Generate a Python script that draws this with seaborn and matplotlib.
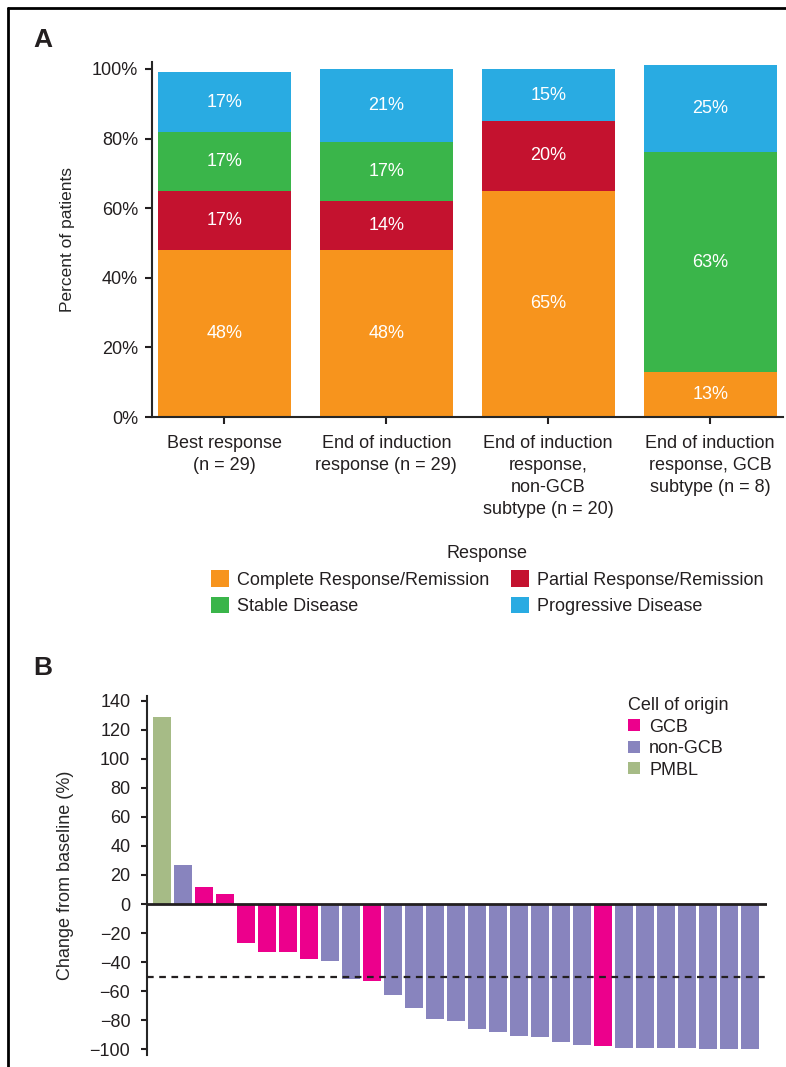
import numpy as np
import pandas as pd
import matplotlib
matplotlib.use("Agg")
import matplotlib.pyplot as plt
from matplotlib.patches import Patch
from matplotlib.lines import Line2D
import seaborn as sns

# --- Panel A data: response by group (%) ---
groups = [
    "Best response\n(n = 29)",
    "End of induction\nresponse (n = 29)",
    "End of induction\nresponse,\nnon-GCB\nsubtype (n = 20)",
    "End of induction\nresponse, GCB\nsubtype (n = 8)",
]
complete = [48, 48, 65, 13]
partial = [17, 14, 20, 0]
stable = [17, 17, 0, 63]
progressive = [17, 21, 15, 25]

response_names = ["Complete Response/Remission", "Partial Response/Remission",
                  "Stable Disease", "Progressive Disease"]
response_colors = ["#F7941D", "#C4122F", "#3AB54A", "#29ABE2"]

# --- Panel B data: change from baseline per patient (%) ---
change = [129, 27, 12, 7, -27, -33, -33, -38, -39, -52, -53, -63, -72, -79, -81,
          -86, -88, -91, -92, -95, -97, -98, -99, -99, -99, -99, -100, -100, -100]
origin = ["PMBL", "non-GCB", "GCB", "GCB", "GCB", "GCB", "GCB", "GCB", "non-GCB",
          "non-GCB", "GCB", "non-GCB", "non-GCB", "non-GCB", "non-GCB", "non-GCB",
          "non-GCB", "non-GCB", "non-GCB", "non-GCB", "non-GCB", "GCB", "non-GCB",
          "non-GCB", "non-GCB", "non-GCB", "non-GCB", "non-GCB", "non-GCB"]
origin_names = ["GCB", "non-GCB", "PMBL"]
origin_colors = ["#EC008C", "#8884BE", "#A6BB86"]

sns.set_style("ticks")
plt.rcParams["font.family"] = ["Liberation Sans", "DejaVu Sans"]
plt.rcParams["axes.linewidth"] = 1.5
plt.rcParams["xtick.major.width"] = 1.5
plt.rcParams["ytick.major.width"] = 1.5
plt.rcParams["text.color"] = "#231F20"
plt.rcParams["xtick.color"] = "#231F20"
plt.rcParams["ytick.color"] = "#231F20"

FS = 13

fig = plt.figure(figsize=(7.86, 10.67), dpi=100)

# ---------------- Panel A ----------------
axA = fig.add_axes([152 / 786, 1 - 417 / 1067, (783 - 152) / 786, (417 - 62) / 1067])

df = pd.DataFrame({"group": groups, "c": complete, "p": partial,
                   "s": stable, "g": progressive})
layers = [df["c"], df["p"], df["s"], df["g"]]
cums = np.cumsum(np.array(layers), axis=0)

# draw from the top layer down so each lower layer covers the upper one
for i in range(3, -1, -1):
    sns.barplot(x=df["group"], y=cums[i], color=response_colors[i],
                saturation=1, width=0.82, errorbar=None, linewidth=0,
                edgecolor="none", ax=axA)

for j in range(len(groups)):
    for i in range(4):
        val = layers[i].iloc[j]
        if val > 0:
            bottom = cums[i][j] - val
            axA.text(j, bottom + val / 2, f"{val}%", ha="center", va="center",
                     color="white", fontsize=FS)

axA.set_ylim(0, 102)
axA.set_xlim(-0.447, 3.45)
axA.set_yticks([0, 20, 40, 60, 80, 100])
axA.set_yticklabels([f"{v}%" for v in [0, 20, 40, 60, 80, 100]], fontsize=FS)
axA.tick_params(axis="x", length=5, pad=8, labelsize=FS)
axA.tick_params(axis="y", length=5, pad=5)
for lab in axA.get_xticklabels():
    lab.set_linespacing(1.38)
axA.set_xlabel("")
axA.set_ylabel("Percent of patients", fontsize=12.5, labelpad=12)
sns.despine(ax=axA)

order_leg = [0, 2, 1, 3]  # row-wise reading order for 2-column legend
handlesA = [Patch(facecolor=response_colors[k], edgecolor="none", label=response_names[k])
            for k in order_leg]
legA = fig.legend(handles=handlesA, title="Response", ncol=2, frameon=False,
                  loc="upper center", bbox_to_anchor=(487 / 786, 1 - 529 / 1067),
                  fontsize=FS, title_fontsize=FS, handlelength=1.0, handleheight=1.0,
                  handletextpad=0.45, columnspacing=1.2, labelspacing=0.45)

# ---------------- Panel B ----------------
axB = fig.add_axes([147 / 786, 1 - 1055 / 1067, 620 / 786, 359 / 1067])

dfB = pd.DataFrame({"patient": list(range(len(change))), "change": change,
                    "origin": origin})
sns.barplot(data=dfB, x="patient", y="change", hue="origin",
            hue_order=origin_names, palette=origin_colors, order=list(range(len(change))),
            dodge=False, saturation=1, width=0.86, errorbar=None, legend=False,
            linewidth=0, edgecolor="none", ax=axB)

axB.axhline(0, color="#231F20", lw=2.0, zorder=3)
axB.axhline(-50, color="#231F20", lw=1.6, ls=(0, (3, 2.5)), zorder=4)

axB.set_xlim(-0.71, 28.8)
axB.set_ylim(-104.1, 143.4)
axB.set_yticks(range(-100, 141, 20))
axB.tick_params(axis="y", length=4, pad=8, labelsize=FS)
axB.set_xticks([])
axB.set_xlabel("")
axB.set_ylabel("Change from baseline (%)", fontsize=FS, labelpad=11)
sns.despine(ax=axB, bottom=True)

handlesB = [Patch(facecolor=c, edgecolor="none", label=n)
            for n, c in zip(origin_names, origin_colors)]
legB = axB.legend(handles=handlesB, title="Cell of origin", frameon=False,
                  loc="upper left", bbox_to_anchor=(612 / 786, 1 - 681 / 1067),
                  bbox_transform=fig.transFigure, fontsize=FS, title_fontsize=FS,
                  handlelength=0.65, handleheight=0.65, handletextpad=0.5,
                  labelspacing=0.25, alignment="left")

# panel letters and frame
fig.text(33 / 786, 1 - 40 / 1067, "A", fontsize=19, fontweight="bold", va="center")
fig.text(33 / 786, 1 - 668 / 1067, "B", fontsize=19, fontweight="bold", va="center")
fig.add_artist(Line2D([8 / 786, 1], [1 - 8 / 1067, 1 - 8 / 1067], color="black", lw=2))
fig.add_artist(Line2D([8 / 786, 8 / 786], [0, 1 - 8 / 1067], color="black", lw=2))

fig.savefig("out.png", dpi=100)
